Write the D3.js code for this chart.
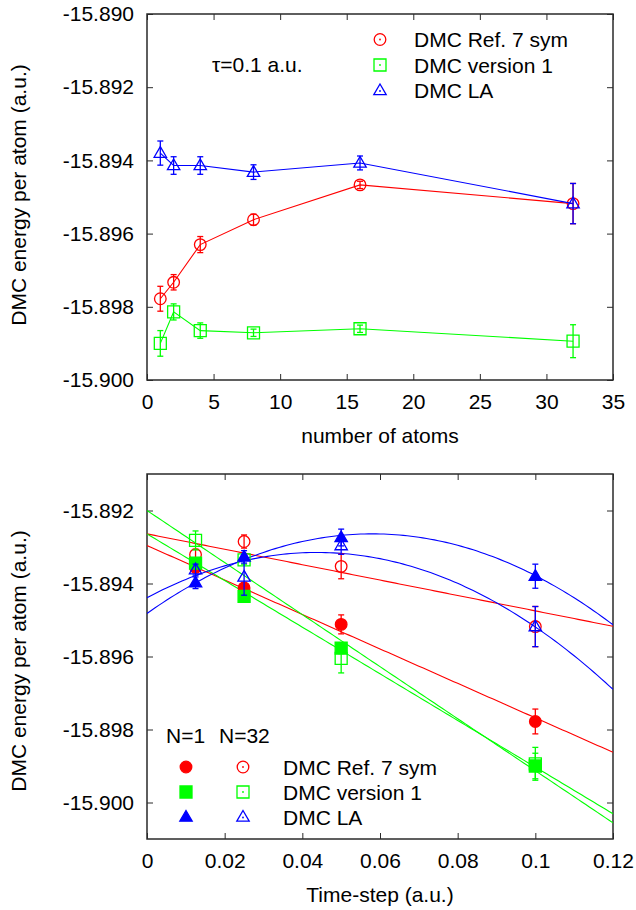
<!DOCTYPE html>
<html>
<head>
<meta charset="utf-8">
<script src="https://cdn.jsdelivr.net/npm/d3@7"></script>
<style>
  html, body { margin: 0; padding: 0; background: #fff; }
  svg text { font-family: "Liberation Sans", Arial, sans-serif; fill: #000; }
</style>
</head>
<body>
<svg id="chart" width="636" height="910"></svg>
<script>
// ---------------- DATA ----------------
// Top panel: energy vs number of atoms (tau = 0.1 a.u.)
const atoms = [1, 2, 4, 8, 16, 32];
const refSym   = [-15.89778, -15.89733, -15.89630, -15.89562, -15.89467, -15.89518];
const refSymErr = [0.00034, 0.00021, 0.00022, 0.00015, 0.00010, 0.00055];
const version1 = [-15.89900, -15.89814, -15.89865, -15.89871, -15.89860, -15.89894];
const version1Err = [0.00035, 0.00022, 0.00021, 0.00010, 0.00010, 0.00045];
const dmcLA    = [-15.89380, -15.89414, -15.89414, -15.89432, -15.89407, -15.89518];
const dmcLAErr = [0.00033, 0.00024, 0.00024, 0.00020, 0.00019, 0.00055];

// Bottom panel: energy vs time-step
const timeSteps = [0.0125, 0.025, 0.05, 0.1];
const refN1    = [-15.89356, -15.89412, -15.89512, -15.89778];
const refN1Err = [0.00012, 0.00015, 0.00026, 0.00034];
const refN32   = [-15.89321, -15.89285, -15.89353, -15.89518];
const refN32Err = [0.00015, 0.00018, 0.00034, 0.00055];
const v1N1     = [-15.89344, -15.89435, -15.89577, -15.89900];
const v1N1Err  = [0.00012, 0.00012, 0.00015, 0.00035];
const v1N32    = [-15.89282, -15.89335, -15.89605, -15.89894];
const v1N32Err = [0.00026, 0.00012, 0.00040, 0.00045];
const laN1     = [-15.89398, -15.89327, -15.89274, -15.89380];
const laN1Err  = [0.00016, 0.00017, 0.00023, 0.00033];
const laN32    = [-15.89362, -15.89382, -15.89296, -15.89518];
const laN32Err = [0.00015, 0.00050, 0.00024, 0.00055];

// Fit coefficients a + b*t + c*t^2
const fitRefN1  = [-15.89296, -0.0472, 0];
const fitRefN32 = [-15.89264, -0.0211, 0];
const fitV1N1   = [-15.89264, -0.0639, 0];
const fitV1N32  = [-15.89200, -0.0713, 0];
const fitLAN1   = [-15.89482, 0.07517, -0.648];
const fitLAN32  = [-15.89439, 0.0566, -0.646];

// Tick labels
const topYTicks = [-15.900, -15.898, -15.896, -15.894, -15.892, -15.890];
const topXTicks = [0, 5, 10, 15, 20, 25, 30, 35];
const botYTicks = [-15.900, -15.898, -15.896, -15.894, -15.892];
const botXTicks = [0, 0.02, 0.04, 0.06, 0.08, 0.1, 0.12];

const legendNames = ["DMC Ref. 7 sym", "DMC version 1", "DMC LA"];

// ---------------- STYLE ----------------
const RED = "#ff0000", GREEN = "#00ff00", BLUE = "#0000ff";
const BORDER = "#2a2a2a";
const FONT = 21;

const svg = d3.select("#chart");

function symPath(shape) {
  if (shape === "circle") { const p = d3.path(); p.moveTo(5.8, 0); p.arc(0, 0, 5.8, 0, 2 * Math.PI); p.closePath(); return p.toString(); }
  if (shape === "square") return "M-6,-6H6V6H-6Z";
  return "M0,-6.5L6.2,4.2H-6.2Z";
}

function drawPanel(cfg) {
  const { x0, x1, y0, y1, xDomain, yDomain, xTicks, yTicks, xFmt, yFmt, xLabel, yLabelY, xLabelY, id } = cfg;
  const x = d3.scaleLinear().domain(xDomain).range([x0, x1]);
  const y = d3.scaleLinear().domain(yDomain).range([y1, y0]);
  const g = svg.append("g");

  const clipId = "clip" + id;
  svg.append("clipPath").attr("id", clipId).append("rect")
    .attr("x", x0).attr("y", y0).attr("width", x1 - x0).attr("height", y1 - y0);

  const axStyle = sel => {
    sel.select(".domain").remove();
    sel.selectAll(".tick line").attr("stroke", BORDER).attr("stroke-width", 1);
    sel.selectAll(".tick text").attr("font-size", FONT).attr("fill", "#000")
      .style("font-family", '"Liberation Sans", Arial, sans-serif');
  };
  g.append("g").attr("transform", `translate(${x0},0)`)
    .call(d3.axisLeft(y).tickValues(yTicks).tickSize(-6).tickPadding(13).tickFormat(yFmt)).call(axStyle);
  g.append("g").attr("transform", `translate(${x1},0)`)
    .call(d3.axisRight(y).tickValues(yTicks).tickSize(-6).tickFormat("")).call(axStyle);
  g.append("g").attr("transform", `translate(0,${y1})`)
    .call(d3.axisBottom(x).tickValues(xTicks).tickSize(-6).tickPadding(14).tickFormat(xFmt)).call(axStyle);
  g.append("g").attr("transform", `translate(0,${y0})`)
    .call(d3.axisTop(x).tickValues(xTicks).tickSize(-6).tickFormat("")).call(axStyle);

  g.append("rect").attr("x", x0).attr("y", y0).attr("width", x1 - x0).attr("height", y1 - y0)
    .attr("fill", "none").attr("stroke", BORDER).attr("stroke-width", 1.5);

  g.append("text").attr("x", (x0 + x1) / 2).attr("y", xLabelY).attr("text-anchor", "middle")
    .attr("font-size", FONT).text(xLabel);
  g.append("text").attr("transform", `translate(26,${yLabelY}) rotate(-90)`).attr("text-anchor", "middle")
    .attr("font-size", FONT).text("DMC energy per atom (a.u.)");

  const plot = svg.append("g").attr("clip-path", `url(#${clipId})`);
  return { x, y, plot };
}

function drawPoints(P, xs, ys, errs, color, shape, filled, connect) {
  const { x, y, plot } = P;
  const pts = xs.map((d, i) => ({ t: d, v: ys[i], e: errs[i] }));
  if (connect) {
    plot.append("path").datum(pts)
      .attr("d", d3.line().x(d => x(d.t)).y(d => y(d.v)))
      .attr("fill", "none").attr("stroke", color).attr("stroke-width", 1.1);
  }
  const eg = plot.append("g").attr("stroke", color).attr("stroke-width", 1.3);
  pts.forEach(d => {
    const cx = x(d.t), ya = y(d.v + d.e), yb = y(d.v - d.e);
    eg.append("line").attr("x1", cx).attr("x2", cx).attr("y1", ya).attr("y2", yb);
    eg.append("line").attr("x1", cx - 3).attr("x2", cx + 3).attr("y1", ya).attr("y2", ya);
    eg.append("line").attr("x1", cx - 3).attr("x2", cx + 3).attr("y1", yb).attr("y2", yb);
  });
  plot.append("g").selectAll("path").data(pts).join("path")
    .attr("transform", d => `translate(${x(d.t)},${y(d.v)})`)
    .attr("d", symPath(shape))
    .attr("fill", filled ? color : "none")
    .attr("stroke", color).attr("stroke-width", 1.3);
}

function drawFit(P, coef, color) {
  const { x, y, plot } = P;
  const ts = d3.range(0, 121).map(i => i * 0.001);
  plot.append("path").datum(ts)
    .attr("d", d3.line().x(t => x(t)).y(t => y(coef[0] + coef[1] * t + coef[2] * t * t)))
    .attr("fill", "none").attr("stroke", color).attr("stroke-width", 1.1);
}

function legendSymbol(g, cx, cy, shape, color, filled) {
  g.append("path").attr("transform", `translate(${cx},${cy})`).attr("d", symPath(shape))
    .attr("fill", filled ? color : "none").attr("stroke", color).attr("stroke-width", 1.3);
  if (!filled) g.append("circle").attr("cx", cx).attr("cy", cy + (shape === "triangle" ? 0.5 : 0)).attr("r", 0.9).attr("fill", color);
}

// ---------------- TOP PANEL ----------------
const fmtY = d => d.toFixed(3);
const topPanel = drawPanel({
  id: "top",
  x0: 147, x1: 613, y0: 14, y1: 380,
  xDomain: [0, 35], yDomain: [-15.900, -15.890],
  xTicks: topXTicks, yTicks: topYTicks,
  xFmt: d => String(d), yFmt: fmtY,
  xLabel: "number of atoms", xLabelY: 443, yLabelY: 195
});
drawPoints(topPanel, atoms, refSym, refSymErr, RED, "circle", false, true);
drawPoints(topPanel, atoms, version1, version1Err, GREEN, "square", false, true);
drawPoints(topPanel, atoms, dmcLA, dmcLAErr, BLUE, "triangle", false, true);

svg.append("text").attr("x", 212).attr("y", 72).attr("font-size", FONT).text("τ=0.1 a.u.");
const lgTop = svg.append("g");
const shapes = [["circle", RED], ["square", GREEN], ["triangle", BLUE]];
legendNames.forEach((name, i) => {
  const cy = 39.5 + i * 25.5;
  legendSymbol(lgTop, 380, cy, shapes[i][0], shapes[i][1], false);
  lgTop.append("text").attr("x", 414).attr("y", cy + 7.5).attr("font-size", FONT).text(name);
});

// ---------------- BOTTOM PANEL ----------------
const botPanel = drawPanel({
  id: "bot",
  x0: 147, x1: 613, y0: 474, y1: 839,
  xDomain: [0, 0.12], yDomain: [-15.901, -15.891],
  xTicks: botXTicks, yTicks: botYTicks,
  xFmt: d => d3.format("~g")(d), yFmt: fmtY,
  xLabel: "Time-step (a.u.)", xLabelY: 902, yLabelY: 661
});
drawFit(botPanel, fitRefN1, RED);
drawFit(botPanel, fitRefN32, RED);
drawFit(botPanel, fitV1N1, GREEN);
drawFit(botPanel, fitV1N32, GREEN);
drawFit(botPanel, fitLAN1, BLUE);
drawFit(botPanel, fitLAN32, BLUE);

drawPoints(botPanel, timeSteps, refN1, refN1Err, RED, "circle", true, false);
drawPoints(botPanel, timeSteps, refN32, refN32Err, RED, "circle", false, false);
drawPoints(botPanel, timeSteps, v1N1, v1N1Err, GREEN, "square", true, false);
drawPoints(botPanel, timeSteps, v1N32, v1N32Err, GREEN, "square", false, false);
drawPoints(botPanel, timeSteps, laN1, laN1Err, BLUE, "triangle", true, false);
drawPoints(botPanel, timeSteps, laN32, laN32Err, BLUE, "triangle", false, false);

const lgBot = svg.append("g");
lgBot.append("text").attr("x", 166).attr("y", 743).attr("font-size", FONT).text("N=1");
lgBot.append("text").attr("x", 219).attr("y", 743).attr("font-size", FONT).text("N=32");
legendNames.forEach((name, i) => {
  const cy = 767 + i * 25;
  legendSymbol(lgBot, 186, cy, shapes[i][0], shapes[i][1], true);
  legendSymbol(lgBot, 243, cy, shapes[i][0], shapes[i][1], false);
  lgBot.append("text").attr("x", 283).attr("y", cy + 7.5).attr("font-size", FONT).text(name);
});
</script>
</body>
</html>
